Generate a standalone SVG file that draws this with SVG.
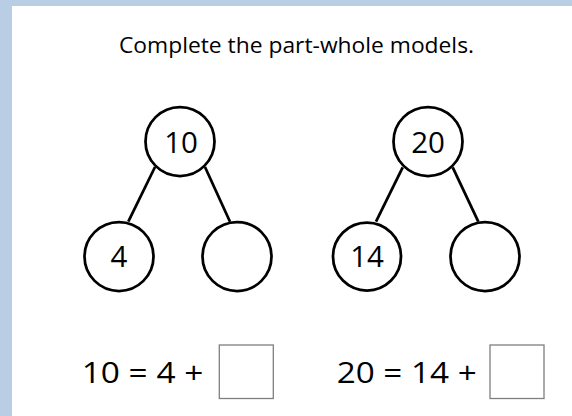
<svg xmlns="http://www.w3.org/2000/svg" width="572" height="416" viewBox="0 0 572 416">
<style>
.n{fill:#fff;stroke:#000;stroke-width:2.75}
.e{stroke:#000;stroke-width:2.75;fill:none}
.t{font-family:"Open Sans","Noto Sans",sans-serif;fill:#000;text-anchor:middle;font-size:29.5px}
.s{text-anchor:start}
.b{fill:#fff;stroke:#7f7f7f;stroke-width:1.3}
</style>
<rect x="0" y="0" width="572" height="416" fill="#b9cde5"/>
<rect x="12" y="6" width="560" height="410" fill="#fff"/>
<text x="119" y="52.7" font-family="Open Sans, Noto Sans, sans-serif" font-size="21.5" fill="#000" textLength="355" lengthAdjust="spacingAndGlyphs">Complete the part-whole models.</text>
<g id="connectors">
<line class="e" x1="155" y1="167" x2="128.3" y2="221.7"/>
<line class="e" x1="205" y1="167" x2="230" y2="221.7"/>
<line class="e" x1="402.7" y1="167.3" x2="376" y2="221.7"/>
<line class="e" x1="452.7" y1="167.3" x2="478.3" y2="221.7"/>
</g>
<g id="n10"><circle class="n" cx="180" cy="141.5" r="34.5"/><text class="t" x="181" y="153.3">10</text></g>
<g id="n4"><circle class="n" cx="119" cy="256.5" r="34.5"/><text class="t" x="119" y="266.7">4</text></g>
<g id="nblank1"><circle class="n" cx="237" cy="256.5" r="34.5"/></g>
<g id="n20"><circle class="n" cx="428" cy="141.5" r="34.5"/><text class="t" x="428" y="153.3">20</text></g>
<g id="n14"><circle class="n" cx="367" cy="256.5" r="34"/><text class="t" x="367" y="266.7">14</text></g>
<g id="nblank2"><circle class="n" cx="485" cy="256.5" r="34.5"/></g>
<g id="eq1"><text class="t s" x="81.7" y="382.7" textLength="121.6" lengthAdjust="spacingAndGlyphs">10 = 4 +</text><rect class="b" x="219.3" y="345" width="54" height="53.5"/></g>
<g id="eq2"><text class="t s" x="336.7" y="382.7" textLength="140" lengthAdjust="spacingAndGlyphs">20 = 14 +</text><rect class="b" x="490" y="345" width="54" height="53.5"/></g>
</svg>
